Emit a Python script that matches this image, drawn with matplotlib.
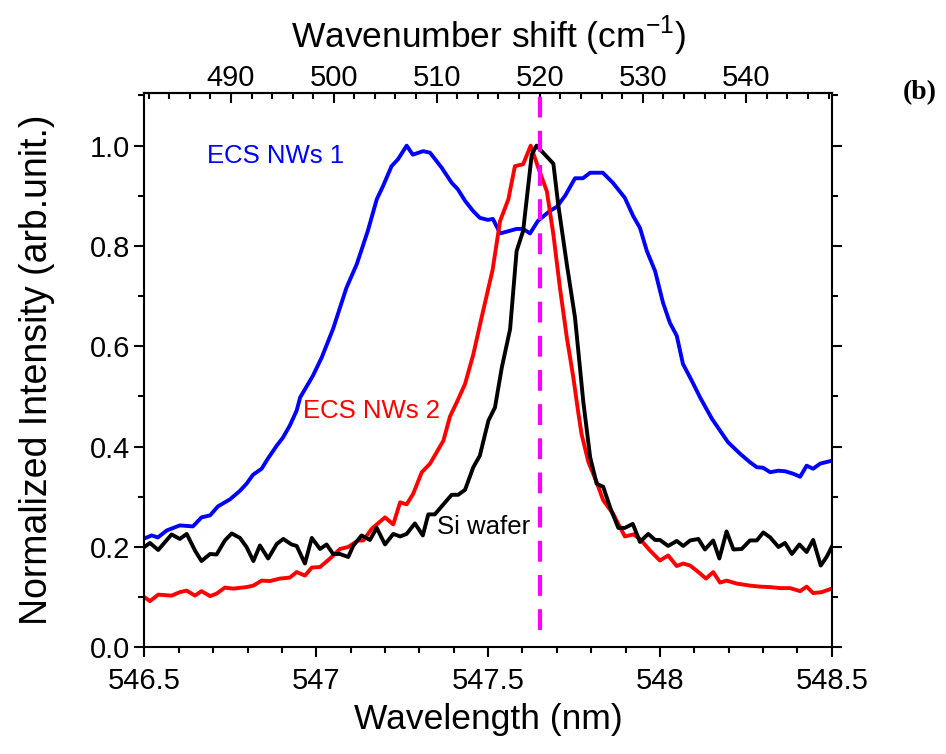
import numpy as np
import matplotlib
matplotlib.use('Agg')
import matplotlib.pyplot as plt
from matplotlib.ticker import MultipleLocator

plt.rcParams['font.family'] = ['Liberation Sans', 'DejaVu Sans']
plt.rcParams['mathtext.fontset'] = 'custom'
plt.rcParams['mathtext.rm'] = 'Liberation Sans'

# laser line (nm) used for the top axis, Raman shift in cm^-1
laser_nm = 532.486
si_shift = 520

# ECS NWs 1 (blue)
wl_nw1 = [546.50, 546.521, 546.539, 546.565, 546.603, 546.641, 546.666, 546.691, 546.714, 546.749,
          546.778, 546.797, 546.816, 546.841, 546.859, 546.885, 546.903, 546.923, 546.943, 546.953,
          546.990, 547.016, 547.049, 547.088, 547.118, 547.150, 547.176, 547.194, 547.219, 547.238,
          547.263, 547.281, 547.311, 547.331, 547.365, 547.394, 547.412, 547.433, 547.456, 547.476,
          547.500, 547.514, 547.535, 547.583, 547.602, 547.622, 547.645, 547.680, 547.700, 547.724,
          547.753, 547.776, 547.797, 547.834, 547.863, 547.898, 547.922, 547.942, 547.962, 547.986,
          548.009, 548.029, 548.049, 548.067, 548.093, 548.117, 548.151, 548.169, 548.198, 548.233,
          548.262, 548.282, 548.300, 548.321, 548.344, 548.364, 548.388, 548.408, 548.427, 548.446,
          548.466, 548.500]
int_nw1 = [0.217, 0.223, 0.219, 0.233, 0.243, 0.241, 0.259, 0.263, 0.281, 0.295,
           0.312, 0.326, 0.344, 0.356, 0.376, 0.402, 0.418, 0.442, 0.472, 0.498,
           0.541, 0.578, 0.635, 0.717, 0.764, 0.830, 0.893, 0.919, 0.959, 0.973,
           1.000, 0.982, 0.989, 0.986, 0.956, 0.926, 0.913, 0.890, 0.870, 0.856,
           0.852, 0.854, 0.825, 0.834, 0.834, 0.825, 0.850, 0.870, 0.878, 0.900,
           0.935, 0.935, 0.946, 0.946, 0.926, 0.896, 0.860, 0.836, 0.790, 0.750,
           0.687, 0.647, 0.621, 0.565, 0.531, 0.498, 0.456, 0.438, 0.409, 0.386,
           0.369, 0.359, 0.358, 0.349, 0.352, 0.351, 0.346, 0.340, 0.362, 0.356,
           0.366, 0.372]

# ECS NWs 2 (red)
wl_nw2 = [546.50, 546.516, 546.540, 546.579, 546.603, 546.623, 546.647, 546.666, 546.691, 546.710,
          546.734, 546.758, 546.797, 546.817, 546.841, 546.865, 546.894, 546.923, 546.943, 546.967,
          546.987, 547.011, 547.040, 547.069, 547.093, 547.122, 547.137, 547.161, 547.200, 547.224,
          547.244, 547.263, 547.282, 547.307, 547.331, 547.370, 547.389, 547.410, 547.433, 547.457,
          547.481, 547.513, 547.535, 547.559, 547.578, 547.602, 547.624, 547.646, 547.671, 547.690,
          547.709, 547.729, 547.748, 547.762, 547.772, 547.792, 547.816, 547.835, 547.864, 547.898,
          547.923, 547.942, 547.971, 548.000, 548.024, 548.049, 548.068, 548.088, 548.112, 548.134,
          548.155, 548.175, 548.194, 548.224, 548.262, 548.291, 548.321, 548.350, 548.379, 548.408,
          548.427, 548.446, 548.471, 548.500]
int_nw2 = [0.100, 0.092, 0.105, 0.103, 0.110, 0.113, 0.103, 0.112, 0.102, 0.107,
           0.119, 0.117, 0.120, 0.123, 0.133, 0.132, 0.137, 0.139, 0.150, 0.143,
           0.159, 0.160, 0.177, 0.196, 0.200, 0.213, 0.213, 0.236, 0.259, 0.245,
           0.289, 0.285, 0.306, 0.349, 0.366, 0.412, 0.460, 0.490, 0.525, 0.584,
           0.657, 0.752, 0.850, 0.893, 0.959, 0.963, 1.000, 0.956, 0.909, 0.823,
           0.717, 0.618, 0.538, 0.470, 0.425, 0.369, 0.329, 0.293, 0.266, 0.221,
           0.225, 0.216, 0.193, 0.173, 0.183, 0.162, 0.167, 0.163, 0.150, 0.137,
           0.150, 0.129, 0.133, 0.127, 0.123, 0.121, 0.120, 0.118, 0.118, 0.112,
           0.121, 0.108, 0.110, 0.117]

# Si wafer (black)
wl_si = [546.50, 546.516, 546.540, 546.579, 546.603, 546.623, 546.647, 546.666, 546.691, 546.710,
         546.734, 546.754, 546.778, 546.797, 546.817, 546.836, 546.860, 546.885, 546.904, 546.928,
         546.943, 546.967, 546.987, 547.011, 547.030, 547.049, 547.069, 547.093, 547.108, 547.132,
         547.156, 547.176, 547.200, 547.224, 547.244, 547.263, 547.287, 547.310, 547.326, 547.345,
         547.370, 547.394, 547.413, 547.433, 547.457, 547.476, 547.501, 547.520, 547.540, 547.564,
         547.583, 547.602, 547.627, 547.641, 547.690, 547.704, 547.729, 547.753, 547.777, 547.797,
         547.816, 547.835, 547.855, 547.879, 547.898, 547.921, 547.942, 547.966, 547.986, 548.000,
         548.024, 548.049, 548.068, 548.088, 548.112, 548.131, 548.155, 548.173, 548.194, 548.214,
         548.238, 548.262, 548.282, 548.301, 548.321, 548.345, 548.364, 548.384, 548.406, 548.427,
         548.446, 548.468, 548.485, 548.500]
int_si = [0.200, 0.208, 0.194, 0.225, 0.216, 0.226, 0.193, 0.172, 0.186, 0.185,
          0.213, 0.227, 0.218, 0.200, 0.172, 0.203, 0.177, 0.206, 0.216, 0.205,
          0.202, 0.167, 0.218, 0.196, 0.205, 0.186, 0.186, 0.180, 0.203, 0.223,
          0.214, 0.238, 0.205, 0.226, 0.221, 0.226, 0.247, 0.223, 0.265, 0.265,
          0.285, 0.304, 0.304, 0.314, 0.359, 0.382, 0.452, 0.478, 0.558, 0.634,
          0.790, 0.830, 0.982, 1.000, 0.964, 0.883, 0.764, 0.657, 0.490, 0.379,
          0.326, 0.320, 0.279, 0.238, 0.238, 0.246, 0.210, 0.226, 0.214, 0.214,
          0.202, 0.212, 0.202, 0.213, 0.216, 0.195, 0.213, 0.177, 0.231, 0.195,
          0.196, 0.213, 0.213, 0.229, 0.219, 0.200, 0.208, 0.186, 0.205, 0.190,
          0.214, 0.163, 0.180, 0.200]


def to_shift(wl):
    wl = np.asarray(wl, dtype=float)
    with np.errstate(divide='ignore', invalid='ignore'):
        return 1e7 / laser_nm - 1e7 / wl


def to_wl(s):
    s = np.asarray(s, dtype=float)
    with np.errstate(divide='ignore', invalid='ignore'):
        return 1e7 / (1e7 / laser_nm - s)


fig = plt.figure(figsize=(9.46, 7.54), dpi=100)
ax = fig.add_axes([0.1527, 0.1415, 0.7265, 0.7352])

ax.plot(wl_nw1, int_nw1, color='#0000ff', lw=2.8)
ax.plot(wl_nw2, int_nw2, color='#ff0000', lw=2.8)
ax.plot(wl_si, int_si, color='black', lw=2.8)
ax.axvline(float(to_wl(si_shift)), ymin=0.032, ymax=1.0, color='#ff00ff', lw=3,
           dashes=(5, 3.2))

ax.text(546.681, 0.979, 'ECS NWs 1', color='#0000ff', fontsize=18.5, va='center')
ax.text(546.961, 0.472, 'ECS NWs 2', color='#ff0000', fontsize=18.5, va='center')
ax.text(547.350, 0.239, 'Si wafer', color='black', fontsize=18.5, va='center')

ax.set_xlim(546.5, 548.5)
ax.set_ylim(0, 1.105)
ax.xaxis.set_minor_locator(MultipleLocator(0.1))
ax.yaxis.set_minor_locator(MultipleLocator(0.1))
ax.set_xticks([546.5, 547, 547.5, 548, 548.5])
ax.set_xticklabels(['546.5', '547', '547.5', '548', '548.5'])
ax.set_yticks([0, 0.2, 0.4, 0.6, 0.8, 1.0])
ax.set_yticklabels(['0.0', '0.2', '0.4', '0.6', '0.8', '1.0'])
ax.tick_params(which='both', direction='out', top=False, right=True, labelsize=21, width=1.5)
ax.tick_params(which='major', length=7)
ax.tick_params(which='minor', length=4.5)
ax.tick_params(axis='x', pad=7)
for sp in ax.spines.values():
    sp.set_linewidth(1.5)

ax.set_xlabel('Wavelength (nm)', fontsize=25.5, labelpad=6)
ax.set_ylabel('Normalized Intensity (arb.unit.)', fontsize=27, labelpad=25)

top = ax.secondary_xaxis('top', functions=(to_shift, to_wl))
top.set_xticks([490, 500, 510, 520, 530, 540])
top.xaxis.set_minor_locator(MultipleLocator(2))
top.tick_params(which='both', direction='in', labelsize=21, width=1.5, pad=0.5)
top.tick_params(which='major', length=7)
top.tick_params(which='minor', length=4.5)
top.spines['top'].set_linewidth(1.5)
top.set_xlabel(r'Wavenumber shift (cm$^{\mathregular{-1}}$)', fontsize=25.5, labelpad=12)

fig.text(0.9725, 0.877, '(b)', fontsize=20, fontweight='bold', family='Liberation Serif',
         ha='center', va='center')

fig.savefig('out.png', dpi=100)
